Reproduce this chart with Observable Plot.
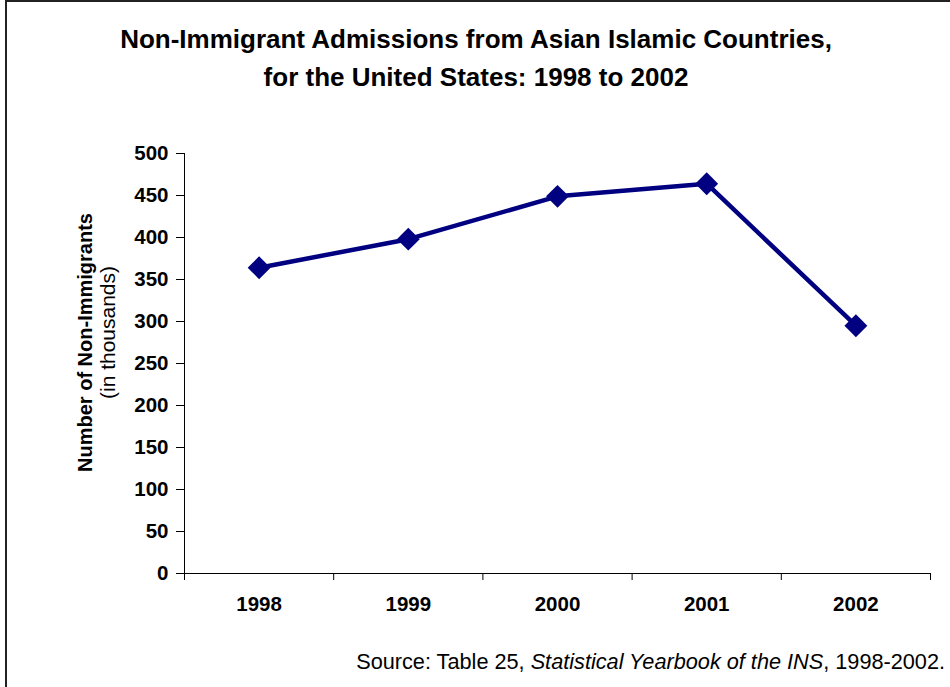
<!DOCTYPE html>
<html>
<head>
<meta charset="utf-8">
<script src="https://cdn.jsdelivr.net/npm/d3@7"></script>
<script src="https://cdn.jsdelivr.net/npm/@observablehq/plot@0.6"></script>
<style>
  html, body { margin: 0; padding: 0; background: #fff; }
  #wrap { position: relative; width: 950px; height: 687px; overflow: hidden; font-family: "Liberation Sans", Arial, sans-serif; }
  #frame { position: absolute; left: 5px; top: 0px; width: 960px; height: 700px; border-left: 2px solid #222; border-top: 2px solid #222; box-sizing: border-box; }
  #title { position: absolute; left: 0; top: 20px; width: 952px; text-align: center; font-weight: bold; font-size: 26px; line-height: 38px; color: #000; }
  #chart { position: absolute; left: 0; top: 120px; }
  #caption { position: absolute; right: 5px; top: 650px; font-size: 21.7px; line-height: 24px; color: #000; white-space: nowrap; }
</style>
</head>
<body>
<div id="wrap">
  <div id="frame"></div>
  <div id="title">Non-Immigrant Admissions from Asian Islamic Countries,<br>for the United States: 1998 to 2002</div>
  <div id="chart"></div>
  <div id="caption">Source: Table 25, <i>Statistical Yearbook of the INS</i>, 1998-2002.</div>
</div>
<script>
const years = [1998, 1999, 2000, 2001, 2002];
const admissions = [364, 398, 449, 464, 295];
const yTicks = [0, 50, 100, 150, 200, 250, 300, 350, 400, 450, 500];
const yLabel = "Number of Non-Immigrants";
const ySubLabel = "(in thousands)";

const data = years.map((y, i) => ({year: y, value: admissions[i]}));
const boundaries = [years[0] - 0.5, ...years.map(y => y + 0.5)];

const chart = Plot.plot({
  width: 950,
  height: 500,
  marginLeft: 184,
  marginRight: 20,
  marginTop: 33,
  marginBottom: 47,
  style: {fontFamily: '"Liberation Sans", Arial, sans-serif', color: "#000", background: "transparent"},
  x: {domain: [boundaries[0], boundaries[boundaries.length - 1]]},
  y: {domain: [0, 500]},
  marks: [
    Plot.ruleX([boundaries[0]], {stroke: "#000", strokeWidth: 1}),
    Plot.ruleY([0], {stroke: "#000", strokeWidth: 1}),
    Plot.axisY({ticks: yTicks, tickSize: 8, tickPadding: 8, fontSize: 20.5, fontWeight: "bold", label: null, stroke: "#000", strokeOpacity: 1}),
    Plot.axisX({ticks: boundaries, tickSize: 7, tickFormat: () => "", label: null, stroke: "#000", strokeOpacity: 1}),
    Plot.axisX({ticks: years, tickSize: 0, tickPadding: 23, tickFormat: d => String(d), fontSize: 20.5, fontWeight: "bold", label: null}),
    Plot.text([yLabel], {text: d => d, frameAnchor: "left", dx: -99, dy: -21, rotate: -90, fontSize: 20, fontWeight: "bold", textAnchor: "middle", lineAnchor: "middle", fill: "#000"}),
    Plot.text([ySubLabel], {text: d => d, frameAnchor: "left", dx: -76, dy: -31, rotate: -90, fontSize: 21, textAnchor: "middle", lineAnchor: "middle", fill: "#000"}),
    Plot.line(data, {x: "year", y: "value", stroke: "#000080", strokeWidth: 4.5}),
    Plot.dot(data, {x: "year", y: "value", symbol: "diamond2", r: 10.3, fill: "#000080", stroke: "none"})
  ]
});
document.getElementById("chart").appendChild(chart);
</script>
</body>
</html>
